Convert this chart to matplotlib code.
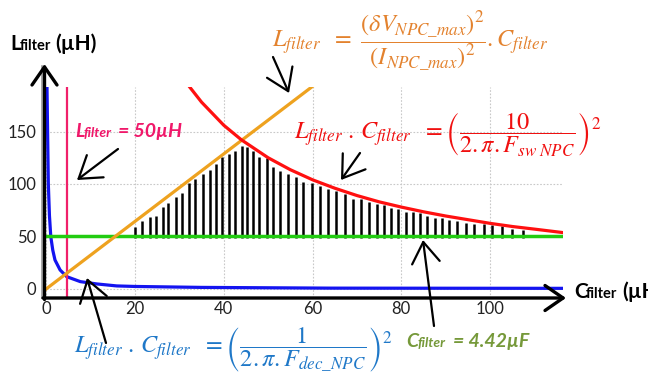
import matplotlib
matplotlib.use("Agg")
import matplotlib.pyplot as plt
from matplotlib.patches import FancyArrowPatch

# ---- data ----
x_ticks = [0, 20, 40, 60, 80, 100]
y_ticks = [0, 50, 100, 150]

# blue curve  L.C = (1/(2.pi.Fdec))^2
blue_c = [0.2, 0.35, 0.5, 0.75, 1.05, 1.5, 2.0, 3.15, 4.65, 7.7, 11.4, 15.9, 20, 35, 64, 90, 116.4]
blue_l = [192, 145, 100, 70, 50, 37, 27.6, 18.1, 11.7, 7.0, 4.8, 2.9, 2.4, 1.5, 0.8, 0.7, 0.6]

# red curve  L.C = (10/(2.pi.Fsw))^2
red_c = [32.4, 35, 40, 44, 50, 55, 60, 65, 70, 75, 80, 85, 90, 95, 100, 105, 110, 116.4]
red_l = [192, 178, 156, 142, 125, 113.6, 104, 96, 89, 83, 78, 73.5, 69.5, 66, 62.5, 59.5, 57, 53.7]

# orange line  L = (dV/I)^2 . C
orange_c = [0, 60]
orange_l = [0, 193]

# limits
l_min = 50      # green line
c_min = 4.7     # pink vertical line

# hatch marks (position, top)
hatch_c = [20.0, 21.7, 23.3, 24.8, 26.3, 27.5, 29.2, 30.7, 32.2, 33.6, 35.3, 36.8, 38.3, 39.7, 41.1, 42.6,
           44.1, 45.3, 46.7, 48.0, 49.7, 51.2, 52.7, 54.4, 56.2, 57.9, 59.8, 61.7, 63.5, 65.3,
           67.3, 69.2, 70.9, 72.7, 74.5, 76.1, 77.7, 79.2, 81.0, 82.6, 84.1, 85.7, 87.5, 89.1, 90.8,
           92.5, 94.5, 96.4, 98.5, 100.4, 102.6, 104.9, 107.5]
hatch_top = [59.3, 65.0, 68.3, 69.8, 78.4, 81.6, 87.9, 91.1, 100.7, 104.5, 109.2, 113.6, 118.8, 125.4, 128.3, 131.7,
             136.5, 135, 131.7, 126, 124.5, 115.9, 112.4, 109.5, 106.4, 101.6, 100.7, 98.1, 95, 93.3,
             90.2, 85.7, 85.7, 83.1, 81, 80, 77.4, 76.2, 73.6, 73, 72.1, 69.5, 67.9, 67.3, 65.7,
             64.5, 63, 62, 61.5, 61, 60, 57, 56]

W, H = 648, 385
plt.rcParams["mathtext.fontset"] = "stix"
plt.rcParams["font.family"] = ["Lato", "DejaVu Sans"]


def P(x, y):
    # figure pixel (from top-left) -> figure fraction
    return (x / W, 1 - y / H)


fig = plt.figure(figsize=(W / 100, H / 100), dpi=100)
ax = fig.add_axes([43 / W, (H - 298) / H, (563 - 43) / W, (298 - 87) / H])
ax.set_xlim(-0.7, 116.4)
ax.set_ylim(-8.6, 192.4)

ax.set_xticks(x_ticks)
ax.set_yticks(y_ticks)
ax.tick_params(length=0, labelsize=12, labelcolor="#222222")
ax.tick_params(axis="y", pad=5)
ax.tick_params(axis="x", pad=2)
for s in ax.spines.values():
    s.set_visible(False)
ax.grid(True, color="#c8c8c8", linestyle=(0, (1.5, 1.5)), lw=0.8)
ax.set_axisbelow(True)

# hatch
ax.vlines(hatch_c, l_min - 1, hatch_top, color="black", lw=1.8, zorder=2)

ax.plot(blue_c, blue_l, color="#1414f0", lw=2.3, zorder=3)
ax.axvline(c_min, color="#f0206a", lw=1.6, zorder=3)
ax.axhline(l_min, color="#22cc11", lw=2.5, zorder=3)
ax.plot(orange_c, orange_l, color="#eea21f", lw=2.3, zorder=4)
ax.plot(red_c, red_l, color="#ff1010", lw=2.3, zorder=4)


def arrow(x0, y0, x1, y1, lw=1.6, hl=0.75, hw=0.5, ms=20):
    fig.add_artist(FancyArrowPatch(P(x0, y0), P(x1, y1), transform=fig.transFigure,
                                   arrowstyle=f"->,head_length={hl},head_width={hw}",
                                   mutation_scale=ms, lw=lw, color="black",
                                   shrinkA=0, shrinkB=0, zorder=10))


# axes arrows
fig.add_artist(plt.Line2D([42 / W, 42 / W], [P(0, 298)[1], P(0, 66)[1]], color="#9a9a9a", lw=1.2))
arrow(44.5, 299.5, 44.5, 64, lw=2.4, hl=0.65, hw=0.45, ms=20)
arrow(43, 298, 566, 298, lw=2.4, hl=0.65, hw=0.45, ms=20)

# pointer arrows
arrow(273, 57, 289, 93)
arrow(118, 149, 77, 180)
arrow(360, 153, 341, 180)
arrow(106, 343, 87, 278)
arrow(434, 326, 423, 240)

# axis titles
fig.text(*P(10, 50), "L", fontsize=15, fontweight="bold", va="baseline")
fig.text(*P(20, 50), "filter", fontsize=10.5, fontweight="bold", va="baseline")
fig.text(*P(55, 50), "(µH)", fontsize=15, fontweight="bold", va="baseline")
fig.text(*P(574, 298), "C", fontsize=15, fontweight="bold", va="baseline")
fig.text(*P(586, 298), "filter", fontsize=10.5, fontweight="bold", va="baseline")
fig.text(*P(622, 298), "(µH)", fontsize=15, fontweight="bold", va="baseline")

# pink label
pink = "#f0186a"
fig.text(*P(75, 137), "L", fontsize=14, fontweight="bold", style="italic", color=pink, va="baseline")
fig.text(*P(84, 137), "filter", fontsize=10, fontweight="bold", style="italic", color=pink, va="baseline")
fig.text(*P(118, 137), "= 50µH", fontsize=14, fontweight="bold", style="italic", color=pink, va="baseline")

# olive label
olive = "#76993a"
fig.text(*P(406, 347), "C", fontsize=14, fontweight="bold", style="italic", color=olive, va="baseline")
fig.text(*P(418, 347), "filter", fontsize=10, fontweight="bold", style="italic", color=olive, va="baseline")
fig.text(*P(453, 347), "= 4.42µF", fontsize=14, fontweight="bold", style="italic", color=olive, va="baseline")

# formulas
fig.text(*P(410, 41),
         r"$L_{filter}\ \ =\ \dfrac{\left(\delta V_{NPC\_max}\right)^2}{\left(I_{NPC\_max}\right)^2}.C_{filter}$",
         fontsize=17.5, color="#e3822e", ha="center", va="center")
fig.text(*P(448, 134),
         r"$L_{filter}\ .\,C_{filter}\ \ =\left(\dfrac{10}{2.\pi.F_{sw\ NPC}}\right)^2$",
         fontsize=17.5, color="#f01010", ha="center", va="center")
fig.text(*P(233, 350),
         r"$L_{filter}\ .\,C_{filter}\ \ =\left(\dfrac{1}{2.\pi.F_{dec\_NPC}}\right)^2$",
         fontsize=17.5, color="#1f78c8", ha="center", va="center")

fig.savefig("out.png", dpi=100)
